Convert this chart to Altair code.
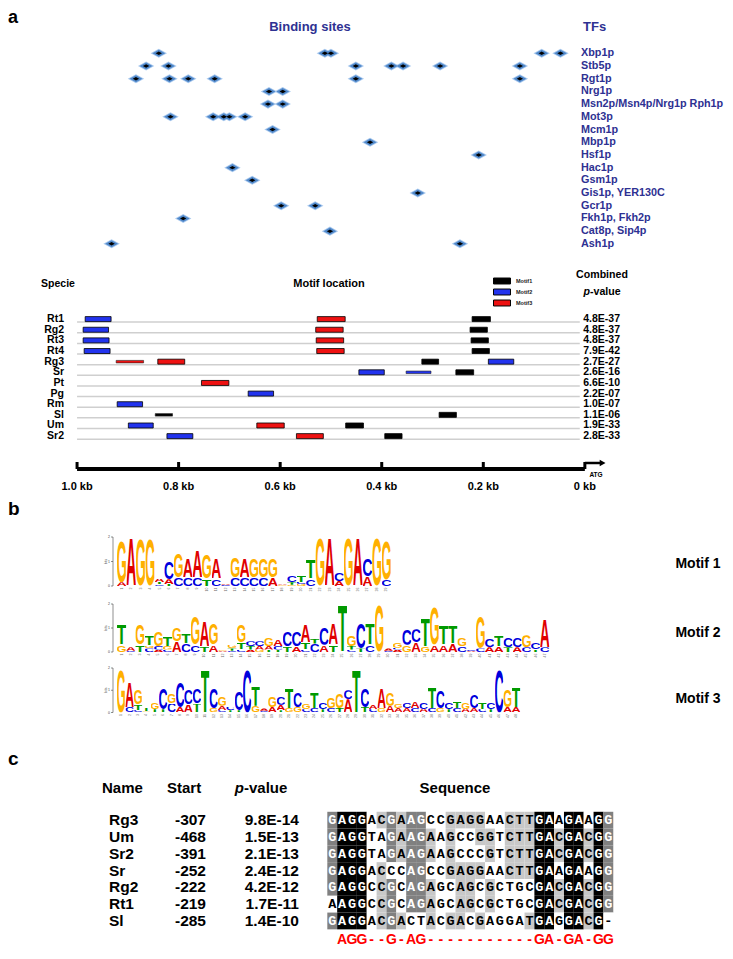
import base64
import altair as alt
import pandas as pd

FONT = "Liberation Sans"
MONO = "Liberation Mono"
NAVY = "#2E3192"
W = 717

# ---------------- panel a (top): predicted TF binding sites, bp upstream of ATG ----------------
tf_names = ["Xbp1p", "Stb5p", "Rgt1p", "Nrg1p", "Msn2p/Msn4p/Nrg1p Rph1p", "Mot3p", "Mcm1p",
            "Mbp1p", "Hsf1p", "Hac1p", "Gsm1p", "Gis1p, YER130C", "Gcr1p", "Fkh1p, Fkh2p",
            "Cat8p, Sip4p", "Ash1p"]
tf_sites_bp = [
    [839, 512, 500, 85, 48],
    [864, 820, 451, 381, 358, 285, 128],
    [884, 818, 781, 729, 451, 128],
    [622, 595],
    [624, 595],
    [816, 732, 711, 700, 669],
    [615],
    [423],
    [209],
    [694],
    [655],
    [329],
    [598, 531],
    [791],
    [502],
    [932, 246],
]

# ---------------- panel a (bottom): motif locations ----------------
species = ["Rt1", "Rg2", "Rt3", "Rt4", "Rg3", "Sr", "Pt", "Pg", "Rm", "Sl", "Um", "Sr2"]
combined_p = ["4.8E-37", "4.8E-37", "4.8E-37", "7.9E-42", "2.7E-27", "2.6E-16", "6.6E-10",
              "2.2E-07", "1.0E-07", "1.1E-06", "1.9E-33", "2.8E-33"]
hit_species = ["Rt1", "Rt1", "Rt1", "Rg2", "Rg2", "Rg2", "Rt3", "Rt3", "Rt3", "Rt4", "Rt4", "Rt4",
               "Rg3", "Rg3", "Rg3", "Rg3", "Sr", "Sr", "Sr", "Pt", "Pg", "Rm", "Sl", "Sl",
               "Um", "Um", "Um", "Sr2", "Sr2", "Sr2"]
hit_motif = ["Motif2", "Motif3", "Motif1", "Motif2", "Motif3", "Motif1", "Motif2", "Motif3", "Motif1",
             "Motif2", "Motif3", "Motif1", "Motif3", "Motif3", "Motif1", "Motif2", "Motif2", "Motif2",
             "Motif1", "Motif3", "Motif2", "Motif2", "Motif1", "Motif1", "Motif2", "Motif3", "Motif1",
             "Motif2", "Motif3", "Motif1"]
hit_from = [984, 527, 222, 988, 530, 226, 988, 529, 224, 986, 528, 222, 923, 841, 321, 190,
            445, 352, 254, 755, 663, 921, 846, 287, 899, 646, 471, 823, 568, 394]
hit_to = [933, 472, 186, 938, 476, 192, 937, 475, 190, 935, 474, 188, 869, 788, 288, 140,
          395, 303, 219, 701, 613, 871, 812, 253, 850, 592, 436, 772, 515, 360]
hit_weak = [0, 0, 0, 0, 0, 0, 0, 0, 0, 0, 0, 0, 1, 0, 0, 0, 0, 1, 0, 0, 0, 0, 1, 0, 0, 0, 0, 0, 0, 0]
axis_bp = [1000, 800, 600, 400, 200, 0]
axis_labels = ["1.0 kb", "0.8 kb", "0.6 kb", "0.4 kb", "0.2 kb", "0 kb"]

# ---------------- panel b: sequence logos (letter+bits, bottom -> top) ----------------
motif1 = ["A0.15 G1.75", "A2.0", "G1.95", "G1.95", "C0.06 T0.1 A0.14", "T0.08 A0.2 C0.75",
          "C0.35 G1.0", "C0.35 A0.8", "C0.35 A1.1", "T0.3 G1.0", "C0.3 A0.85", "C0.04 A0.05",
          "C0.35 G0.85", "C0.35 A0.8", "C0.35 G0.8", "C0.35 G0.8", "A0.35 G0.8", "G0.03 A0.04",
          "G0.05 T0.1 C0.28", "G0.08 C0.08 T0.3", "C0.3 T0.8", "G2.0", "A2.0", "A0.2 C0.35",
          "G2.0", "A2.0", "A0.4 C0.7", "G2.0", "C0.25 G1.65"]
motif2 = ["G0.3 T0.87", "C0.05 A0.15", "T0.3 G0.83", "C0.15 G0.12 T0.4", "A0.1 C0.15 G0.6",
          "C0.1 G0.15 T0.4", "A0.45 G0.55", "C0.35 T0.4", "C0.3 G1.2", "T0.25 A1.1", "A0.3 G0.9",
          "A0.05 G0.05", "C0.05 T0.1 G0.15", "C0.1 T0.3 G0.75", "A0.1 T0.15 C0.2", "G0.1 A0.15 C0.2",
          "T0.1 A0.15 G0.35", "T0.1 C0.15 A0.3", "T0.25 C0.6", "A0.25 C0.6", "C0.1 T0.3 A0.75",
          "C0.35 T0.25", "A0.3 C0.75", "T0.3 A0.9", "T2.0", "C0.1 T0.15 G0.45", "T0.15 C1.1",
          "C0.3 T0.9", "G2.0", "C0.05 A0.1", "A0.1 C0.08 G0.2", "G0.3 C0.7", "A0.4 C0.55",
          "G0.25 T1.2", "A0.3 G1.6", "A0.3 T0.8", "A0.35 T0.75", "C0.25 G0.35", "A0.04 C0.04",
          "C0.15 G1.4", "A0.2 C0.35", "A0.25 T0.45", "T0.2 C0.4", "A0.2 C0.4", "C0.2 G0.5",
          "T0.1 C0.3", "C0.2 A1.2"]
motif3 = ["G2.0", "C0.25 A1.15", "C0.1 T0.25 G0.7", "G0.05 T0.15", "T0.15 G0.3", "T0.15 C1.0",
          "C0.4 G0.45", "A0.25 C1.2", "A0.35 C0.7", "T0.4 C0.7", "T2.0", "G0.2 C0.9",
          "C0.1 A0.2 G0.4", "T0.1 C0.15", "T0.1 C0.85", "C2.0", "G0.3 T0.9", "C0.08 A0.1",
          "A0.25 G0.5", "T0.1 A0.25 C0.35", "G0.2 T0.9", "G0.25 C0.7", "C0.15 G0.25", "C0.2 T0.75",
          "T0.15 C0.3", "C0.2 G0.5", "T0.2 G0.7", "A0.6 C0.4", "T2.0", "T0.25 C0.85", "C0.15 A0.2",
          "G0.2 A0.9", "A0.3 G0.6", "A0.2 G0.2", "A0.2 C0.25", "C0.2 A0.3", "A0.15 C0.3",
          "C0.2 T1.0", "G0.2 C0.8", "T0.15 C0.3", "C0.2 T0.3", "A0.15 G0.3", "A0.2 C0.6",
          "C0.15 T0.3", "T0.15 C0.3", "C2.0", "A0.25 G0.8", "A0.25 T0.9"]

# ---------------- panel c: motif 1 sites ----------------
site_names = ["Rg3", "Um", "Sr2", "Sr", "Rg2", "Rt1", "Sl"]
site_starts = ["-307", "-468", "-391", "-252", "-222", "-219", "-285"]
site_pvals = ["9.8E-14", "1.5E-13", "2.1E-13", "2.4E-12", "4.2E-12", "1.7E-11", "1.4E-10"]
site_seqs = ["GAGGACGAAGCCGAGGAACTTGAAGAAGG",
             "GAGGTAGAAGAAGCCGGTCTTGACGACGG",
             "GAGGTAGAAGAAGCCCGTCTTGACGACGG",
             "GAGGACCCAGCCGAGGAACTTGAAGAAGG",
             "GAGGCCGCAGAGCAGCGCTGCGACGACGG",
             "AAGGCCGCAGAGCAGCGCTGCGACGACGG",
             "GAGGACGACTACGACGAGGATGAGGACG-"]
consensus = "AGG--G-AG-----------GA-GA-GG"   # aligned from column 2

# =====================================================================
def txt(text, **kw):
    return alt.Chart(pd.DataFrame({"t": [text]})).mark_text(font=FONT, **kw).encode(text="t:N")

# ---------- panel a top ----------
xs = alt.Scale(domain=[-276, 1136], reverse=True, nice=False, zero=False)
ysA = alt.Scale(domain=[-3.567, 15.17], reverse=True, nice=False, zero=False)
sites = pd.DataFrame([{"row": i, "bp": bp} for i, lst in enumerate(tf_sites_bp) for bp in lst])
tfdf = pd.DataFrame({"tf": tf_names, "row": list(range(len(tf_names)))})
XA = alt.X("bp:Q", scale=xs, axis=None)
YA = alt.Y("row:Q", scale=ysA, axis=None)
DIAMOND = "M-1,0L0,-0.55L1,0L0,0.55Z"
halo = alt.Chart(sites).mark_point(shape=DIAMOND, filled=True, size=270, color="#a9c9ee", opacity=1).encode(XA, YA)
body = alt.Chart(sites).mark_point(shape=DIAMOND, filled=True, size=165, color="#4f87c9", opacity=1).encode(XA, YA)
core = alt.Chart(sites).mark_point(shape=DIAMOND, filled=True, size=40, color="#000000", opacity=1).encode(XA, YA)
tf_text = alt.Chart(tfdf).mark_text(font=FONT, fontWeight="bold", fontSize=10.8, color=NAVY,
                                    align="left", baseline="middle").encode(
    x=alt.value(573), y=YA, text="tf:N")
a_top = alt.layer(
    halo, body, core, tf_text,
    txt("a", fontSize=18, fontWeight="bold", align="left", baseline="alphabetic", color="black").encode(
        x=alt.value(0), y=alt.value(15)),
    txt("Binding sites", fontSize=13, fontWeight="bold", color=NAVY, align="center", baseline="middle").encode(
        x=alt.value(302), y=alt.value(19)),
    txt("TFs", fontSize=13, fontWeight="bold", color=NAVY, align="left", baseline="middle").encode(
        x=alt.value(575), y=alt.value(19)),
).properties(width=W, height=238)

# ---------- panel a bottom ----------
ysB = alt.Scale(domain=[-6.40, 15.78], reverse=True, nice=False, zero=False)
spdf = pd.DataFrame({"sp": species, "row": list(range(len(species))), "p": combined_p})
hits = pd.DataFrame({"sp": hit_species, "motif": hit_motif, "from": hit_from, "to": hit_to, "weak": hit_weak})
hits["row"] = hits["sp"].map(species.index)
YB = alt.Y("row:Q", scale=ysB, axis=None)
RECT = "M-2,-0.7L2,-0.7L2,0.7L-2,0.7Z"
leg = alt.Legend(orient="none", legendX=489, legendY=30, title=None, symbolType=RECT, symbolSize=72,
                 symbolStrokeColor="black", symbolStrokeWidth=1, symbolOpacity=1, labelFont=FONT,
                 labelFontSize=5.5, labelFontWeight="bold", labelColor="#222", labelOffset=9,
                 rowPadding=1, padding=0, offset=0)
cscale = alt.Scale(domain=["Motif1", "Motif2", "Motif3"], range=["#000000", "#2233ee", "#ee1111"])
row_lines = alt.Chart(spdf).mark_rule(color="#cfcfcf", strokeWidth=1.5, yOffset=3).encode(
    x=alt.X(datum=1000, type="quantitative", scale=xs, axis=None), x2=alt.X2(datum=10), y=YB)
bars = alt.Chart(hits).transform_filter("datum.weak == 0").mark_bar(size=5, stroke="black", strokeWidth=0.8).encode(
    x=alt.X("from:Q", scale=xs, axis=None), x2="to:Q", y=YB,
    color=alt.Color("motif:N", scale=cscale, legend=leg))
bars_weak = alt.Chart(hits).transform_filter("datum.weak == 1").mark_bar(size=2.5, stroke="#222", strokeWidth=0.6).encode(
    x=alt.X("from:Q", scale=xs, axis=None), x2="to:Q", y=YB,
    color=alt.Color("motif:N", scale=cscale, legend=leg))
sp_text = alt.Chart(spdf).mark_text(font=FONT, fontWeight="bold", fontSize=10.5, align="right",
                                    baseline="middle").encode(x=alt.value(56), y=YB, text="sp:N")
p_text = alt.Chart(spdf).mark_text(font=FONT, fontWeight="bold", fontSize=10.5, align="right",
                                   baseline="middle").encode(x=alt.value(612), y=YB, text="p:N")
axdf = pd.DataFrame({"bp": axis_bp, "lab": axis_labels})
axis_line = alt.Chart(axdf).mark_rule(color="black", strokeWidth=4).encode(
    x=alt.X("max(bp):Q", scale=xs, axis=None), x2="min(bp):Q", y=alt.value(223))
axis_ticks = alt.Chart(axdf).mark_rule(color="black", strokeWidth=3).encode(
    x=alt.X("bp:Q", scale=xs, axis=None), y=alt.value(216), y2=alt.value(223))
axis_labs = alt.Chart(axdf).mark_text(font=FONT, fontWeight="bold", fontSize=11, baseline="middle").encode(
    x=alt.X("bp:Q", scale=xs, axis=None), y=alt.value(241), text="lab:N")
arrow = alt.Chart(pd.DataFrame({"a": [0], "b": [-30]})).mark_rule(color="black", strokeWidth=2.5).encode(
    x=alt.X("a:Q", scale=xs, axis=None), x2="b:Q", y=alt.value(217))
head = alt.Chart(pd.DataFrame({"a": [-35]})).mark_point(shape="triangle-right", filled=True, size=45,
                                                      color="black", opacity=1).encode(
    x=alt.X("a:Q", scale=xs, axis=None), y=alt.value(217))
atg = alt.Chart(pd.DataFrame({"a": [-22], "t": ["ATG"]})).mark_text(font=FONT, fontWeight="bold", fontSize=6.5,
                                                                  baseline="middle").encode(
    x=alt.X("a:Q", scale=xs, axis=None), y=alt.value(229), text="t:N")
a_bot = alt.layer(
    row_lines, bars, bars_weak, sp_text, p_text, axis_line, axis_ticks, axis_labs, arrow, head, atg,
    txt("Specie", fontSize=10.5, fontWeight="bold", align="center", baseline="middle").encode(
        x=alt.value(50), y=alt.value(38)),
    txt("Motif location", fontSize=11, fontWeight="bold", align="center", baseline="middle").encode(
        x=alt.value(321), y=alt.value(38)),
    txt("Combined", fontSize=10.6, fontWeight="bold", align="center", baseline="middle").encode(
        x=alt.value(594), y=alt.value(29)),
    txt("p", fontSize=10.6, fontWeight="bold", fontStyle="italic", align="right", baseline="middle").encode(
        x=alt.value(582), y=alt.value(46)),
    txt("-value", fontSize=10.6, fontWeight="bold", align="left", baseline="middle").encode(
        x=alt.value(582), y=alt.value(46)),
).properties(width=W, height=246)

# ---------- panel b: logos ----------
LCOL = {"A": "#e00000", "C": "#0000dd", "G": "#ffb000", "T": "#009a00"}


def letter_uri(ch):
    svg = ('<svg xmlns="http://www.w3.org/2000/svg" viewBox="30 -730 660 742" preserveAspectRatio="none">'
           '<text x="0" y="0" font-family="Liberation Sans, Arial, sans-serif" font-weight="bold" '
           'font-size="1000" textLength="720" lengthAdjust="spacingAndGlyphs" fill="%s">%s</text></svg>'
           % (LCOL[ch], ch))
    return "data:image/svg+xml;base64," + base64.b64encode(svg.encode()).decode()


URIS = {ch: letter_uri(ch) for ch in "ACGT"}


def logo(stacks, width_px, height, base_px, bit_px, label, label_y, extra=None):
    rows = []
    for p, s in enumerate(stacks, start=1):
        y = 0.0
        for tok in s.split():
            h = float(tok[1:])
            rows.append({"pos": p, "x0": p - 1, "x1": p, "y0": y, "y1": y + h, "url": URIS[tok[0]]})
            y += h
    df = pd.DataFrame(rows)
    xsc = alt.Scale(domain=[-109 / width_px, (W - 109) / width_px], nice=False, zero=False)
    ysc = alt.Scale(domain=[-(height - base_px) / bit_px, base_px / bit_px], nice=False, zero=False)
    letters = alt.Chart(df).mark_image(aspect=False).encode(
        x=alt.X("x0:Q", scale=xsc, axis=None), x2="x1:Q",
        y=alt.Y("y0:Q", scale=ysc, axis=None), y2="y1:Q", url="url:N")
    posdf = pd.DataFrame({"pos": list(range(1, len(stacks) + 1))})
    posdf["c"] = posdf["pos"] - 0.5
    nums = alt.Chart(posdf).mark_text(font=FONT, fontSize=3.5, color="#666", angle=270, align="right",
                                      baseline="middle").encode(
        x=alt.X("c:Q", scale=xsc, axis=None), y=alt.value(base_px + 1.5), text="pos:N")
    bits = pd.DataFrame({"b": [0, 1, 2], "b2": [0, 0, 2]})
    yax = alt.Chart(bits).mark_rule(color="#444", strokeWidth=0.6).encode(
        x=alt.value(105), y=alt.Y("b2:Q", scale=ysc, axis=None), y2=alt.Y2(datum=0))
    ytk = alt.Chart(bits).mark_rule(color="#444", strokeWidth=0.6).encode(
        x=alt.value(103), x2=alt.value(105), y=alt.Y("b:Q", scale=ysc, axis=None))
    ylab = alt.Chart(bits).mark_text(font=FONT, fontSize=3.5, color="#444", align="right",
                                     baseline="middle").encode(
        x=alt.value(102), y=alt.Y("b:Q", scale=ysc, axis=None), text="b:N")
    ytitle = alt.Chart(pd.DataFrame({"b": [1], "t": ["bits"]})).mark_text(
        font=FONT, fontSize=3.5, color="#444", angle=270, baseline="middle").encode(
        x=alt.value(98), y=alt.Y("b:Q", scale=ysc, axis=None), text="t:N")
    lab = txt(label, fontSize=14, fontWeight="bold", align="center", baseline="middle").encode(
        x=alt.value(690), y=alt.value(label_y))
    layers = [yax, ytk, ylab, ytitle, nums, letters, lab]
    if extra is not None:
        layers.append(extra)
    return alt.layer(*layers).properties(width=W, height=height)


b_label = txt("b", fontSize=19, fontWeight="bold", align="left", baseline="alphabetic").encode(
    x=alt.value(0), y=alt.value(23))
L1 = logo(motif1, 9.45, 108, 94, 24.5, "Motif 1", 72, b_label)
L2 = logo(motif2, 9.2, 65, 52, 24.0, "Motif 2", 33)
L3 = logo(motif3, 8.4, 67, 47.5, 22.25, "Motif 3", 34)

# ---------- panel c ----------
xsC = alt.Scale(domain=[-32.38, 40.33], nice=False, zero=False)
ysC = alt.Scale(domain=[-5.25, 7.55], reverse=True, nice=False, zero=False)
cells = []
for r, s in enumerate(site_seqs):
    for c, ch in enumerate(s, start=1):
        colvals = [q[c - 1] for q in site_seqs]
        n = colvals.count(ch) if ch != "-" else 0
        shade = "full" if n == 7 else ("high" if n >= 6 else ("mid" if n >= 4 else "low"))
        cells.append({"row": r, "c0": c - 1, "c1": c, "cm": c - 0.5, "r0": r - 0.5, "r1": r + 0.5,
                      "ch": ch, "shade": shade})
cells = pd.DataFrame(cells)
cell_rect = alt.Chart(cells).mark_rect().encode(
    x=alt.X("c0:Q", scale=xsC, axis=None), x2="c1:Q",
    y=alt.Y("r0:Q", scale=ysC, axis=None), y2="r1:Q",
    color=alt.Color("shade:N", legend=None,
                    scale=alt.Scale(domain=["full", "high", "mid", "low"],
                                    range=["#000000", "#808080", "#c8c8c8", "#ffffff"])))
cell_txt = alt.Chart(cells).mark_text(font=MONO, fontWeight="bold", fontSize=13.5, baseline="middle").encode(
    x=alt.X("cm:Q", scale=xsC, axis=None), y=alt.Y("row:Q", scale=ysC, axis=None), text="ch:N",
    color=alt.condition("datum.shade == 'full' || datum.shade == 'high'", alt.value("white"), alt.value("black")))
cons = pd.DataFrame({"ch": list(consensus)})
cons["cm"] = [i + 1.5 for i in range(len(consensus))]
cons_txt = alt.Chart(cons).mark_text(font=FONT, fontWeight="bold", fontSize=14, color="#ff0000",
                                     baseline="middle").encode(
    x=alt.X("cm:Q", scale=xsC, axis=None), y=alt.value(208), text="ch:N")
tab = pd.DataFrame({"row": list(range(7)), "n": site_names, "s": site_starts, "p": site_pvals})
YC = alt.Y("row:Q", scale=ysC, axis=None)
name_txt = alt.Chart(tab).mark_text(font=FONT, fontWeight="bold", fontSize=15.5, align="left",
                                    baseline="middle").encode(x=alt.value(101), y=YC, text="n:N")
start_txt = alt.Chart(tab).mark_text(font=FONT, fontWeight="bold", fontSize=15.5, align="right",
                                     baseline="middle").encode(x=alt.value(198), y=YC, text="s:N")
pv_txt = alt.Chart(tab).mark_text(font=FONT, fontWeight="bold", fontSize=15.5, align="right",
                                  baseline="middle").encode(x=alt.value(291), y=YC, text="p:N")
hdr = dict(fontSize=15, fontWeight="bold", baseline="middle")
c_panel = alt.layer(
    cell_rect, cell_txt, cons_txt, name_txt, start_txt, pv_txt,
    txt("c", fontSize=19, fontWeight="bold", align="left", baseline="alphabetic").encode(
        x=alt.value(0), y=alt.value(33)),
    txt("Name", align="left", **hdr).encode(x=alt.value(94), y=alt.value(56)),
    txt("Start", align="left", **hdr).encode(x=alt.value(159), y=alt.value(56)),
    txt("p", align="right", fontStyle="italic", **hdr).encode(x=alt.value(236), y=alt.value(56)),
    txt("-value", align="left", **hdr).encode(x=alt.value(236), y=alt.value(56)),
    txt("Sequence", align="center", **hdr).encode(x=alt.value(447), y=alt.value(56)),
).properties(width=W, height=215)

chart = alt.vconcat(a_top, a_bot, L1, L2, L3, c_panel, spacing=0, bounds="flush").resolve_scale(
    x="independent", y="independent", color="independent").properties(padding=0).configure_view(stroke=None)

chart.save("out.html", embed_options={"renderer": "svg", "actions": False})
